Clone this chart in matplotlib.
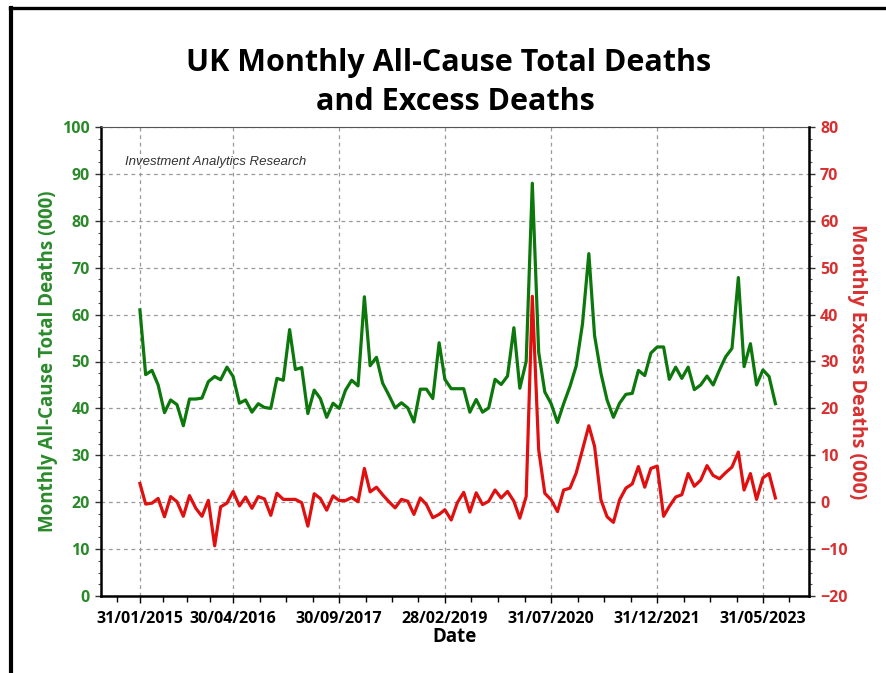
import numpy as np
import pandas as pd
import matplotlib
matplotlib.use("Agg")
import matplotlib.pyplot as plt
import matplotlib.dates as mdates
from matplotlib.lines import Line2D

# monthly data, Jan 2015 .. Jul 2023 (thousands)
total_deaths = [
    61.0, 47.2, 48.1, 45.0, 39.1, 41.8, 40.8, 36.3, 42.0, 42.0, 42.2, 45.7,
    46.8, 46.1, 48.8, 46.8, 41.1, 41.8, 39.2, 41.0, 40.2, 40.0, 46.4, 46.0,
    56.8, 48.3, 48.7, 38.9, 43.9, 42.1, 38.1, 41.1, 40.0, 43.9, 46.0, 44.8,
    63.8, 49.1, 50.9, 45.4, 42.8, 40.1, 41.2, 40.1, 37.1, 44.1, 44.1, 42.1,
    54.0, 46.2, 44.2, 44.2, 44.2, 39.2, 41.9, 39.2, 40.1, 46.2, 45.1, 46.9,
    57.2, 44.3, 50.0, 88.0, 52.0, 43.5, 41.0, 37.0, 41.0, 44.7, 49.0, 58.0,
    73.0, 55.5, 47.5, 41.8, 38.1, 41.1, 43.0, 43.2, 48.1, 47.0, 51.8, 53.1,
    53.1, 46.2, 48.8, 46.4, 48.8, 44.0, 45.0, 46.9, 45.0, 48.2, 51.0, 52.8,
    67.9, 48.9, 53.8, 45.0, 48.2, 46.8, 41.0,
]
excess_deaths = [
    4.0, -0.4, -0.2, 0.8, -3.1, 1.2, 0.1, -3.0, 1.4, -1.3, -3.0, 0.4,
    -9.3, -1.0, -0.2, 2.3, -0.8, 1.1, -1.3, 1.2, 0.7, -2.8, 1.9, 0.6,
    0.6, 0.6, -0.1, -5.1, 1.8, 0.8, -1.7, 1.35, 0.35, 0.35, 1.0, 0.1,
    7.2, 2.2, 3.2, 1.6, 0.1, -1.2, 0.6, 0.2, -2.6, 0.9, -0.5, -3.3,
    -2.6, -1.6, -3.8, -0.1, 2.1, -2.1, 2.0, -0.5, 0.2, 2.6, 0.9, 2.3,
    0.2, -3.4, 1.2, 43.9, 11.2, 1.9, 0.5, -2.0, 2.6, 3.0, 6.2, 11.2,
    16.3, 11.9, 0.5, -3.1, -4.3, 0.5, 3.0, 3.9, 7.6, 3.2, 7.2, 7.7,
    -3.0, -0.9, 1.1, 1.6, 6.1, 3.4, 4.7, 7.8, 5.7, 5.0, 6.3, 7.5,
    10.7, 2.6, 6.1, 0.6, 5.2, 6.1, 0.9,
]
dates = pd.date_range("2015-01-31", periods=len(total_deaths), freq="ME")
tick_dates = ["2015-01-31", "2016-04-30", "2017-09-30", "2019-02-28",
              "2020-07-31", "2021-12-31", "2023-05-31"]

green = "#0c780c"
green_txt = "#2a8a2a"
red = "#e01010"
red_txt = "#d83030"
font = ["Open Sans", "DejaVu Sans"]
plt.rcParams["font.family"] = font

fig = plt.figure(figsize=(8.87, 6.73), dpi=100)
ax = fig.add_axes([101 / 887, 1 - 596 / 673, 708 / 887, 469 / 673])
ax2 = ax.twinx()

ax.plot(dates, total_deaths, color=green, lw=2.3, zorder=3)
ax2.plot(dates, excess_deaths, color=red, lw=2.3, zorder=4)

ax.set_ylim(0, 100)
ax2.set_ylim(-20, 80)
ax.set_xlim(pd.Timestamp("2014-07-25"), pd.Timestamp("2024-01-11"))

ax.set_yticks(np.arange(0, 101, 10))
ax.set_yticks(np.arange(0, 101, 2.5), minor=True)
ax2.set_yticks(np.arange(-20, 81, 10))
ax2.set_yticks(np.arange(-20, 81, 2.5), minor=True)

# x ticks: month-end dates, minors spread evenly between majors
major = mdates.date2num(pd.to_datetime(tick_dates))
minor = [major[0] - (major[1] - major[0]) / 4]
for a, b in zip(major[:-1], major[1:]):
    minor += list(np.linspace(a, b, 5)[1:-1])
minor.append(major[-1] + (major[-1] - major[-2]) / 4)
ax.set_xticks(major)
ax.set_xticks(minor, minor=True)
ax.xaxis.set_major_formatter(mdates.DateFormatter("%d/%m/%Y"))

ax.grid(True, which="major", color="#9a9a9a", ls=(0, (3, 3)), lw=0.9)
ax.set_axisbelow(True)

ax.tick_params(axis="x", which="major", length=5, width=1, pad=6,
               labelsize=11.5, colors="black")
ax.tick_params(axis="x", which="minor", length=4, width=1)
ax.tick_params(axis="y", which="major", length=4, width=1, pad=4,
               labelsize=11.5, labelcolor=green_txt, color="#333333")
ax.tick_params(axis="y", which="minor", length=2.5, width=0.8, color="#555555")
ax2.tick_params(axis="y", which="major", length=4, width=1, pad=4,
                labelsize=11.5, labelcolor=red_txt, color="#333333")
ax2.tick_params(axis="y", which="minor", length=2.5, width=0.8, color="#555555")
for lbl in ax.get_xticklabels() + ax.get_yticklabels() + ax2.get_yticklabels():
    lbl.set_fontweight("bold")

for sp in ["left", "bottom"]:
    ax.spines[sp].set_linewidth(1.8)
ax.spines["top"].set_linewidth(0.8)
ax.spines["top"].set_color("#555555")
ax2.spines["right"].set_linewidth(1.8)
ax2.spines["top"].set_visible(False)
ax2.spines["left"].set_visible(False)
ax2.spines["bottom"].set_visible(False)

ax.text(0.034, 0.925, "Investment Analytics Research", transform=ax.transAxes,
        fontsize=9.5, style="italic", color="#333333",
        family=["Liberation Sans", "DejaVu Sans"], va="center")

fig.text(0.054, 1 - 361.5 / 673, "Monthly All-Cause Total Deaths (000)", rotation=90,
         color=green_txt, fontsize=13.5, fontweight="bold", ha="center", va="center")
fig.text(0.966, 1 - 362 / 673, "Monthly Excess Deaths (000)", rotation=270,
         color=red_txt, fontsize=14, fontweight="bold", ha="center", va="center")
fig.text(455 / 887, 1 - 637 / 673, "Date", fontsize=13.5, fontweight="bold",
         ha="center", va="center")

fig.text(449 / 887, 1 - 71 / 673, "UK Monthly All-Cause Total Deaths",
         fontsize=22, fontweight="bold", ha="center", va="baseline")
fig.text(455 / 887, 1 - 110 / 673, "and Excess Deaths",
         fontsize=22, fontweight="bold", ha="center", va="baseline")

# outer frame (left and top edges visible)
fig.add_artist(Line2D([11.5 / 887, 11.5 / 887], [0, 1 - 8 / 673],
                      transform=fig.transFigure, color="black", lw=3.0))
fig.add_artist(Line2D([10 / 887, 1], [1 - 8 / 673, 1 - 8 / 673],
                      transform=fig.transFigure, color="black", lw=2.4))

fig.savefig("out.png", dpi=100)
